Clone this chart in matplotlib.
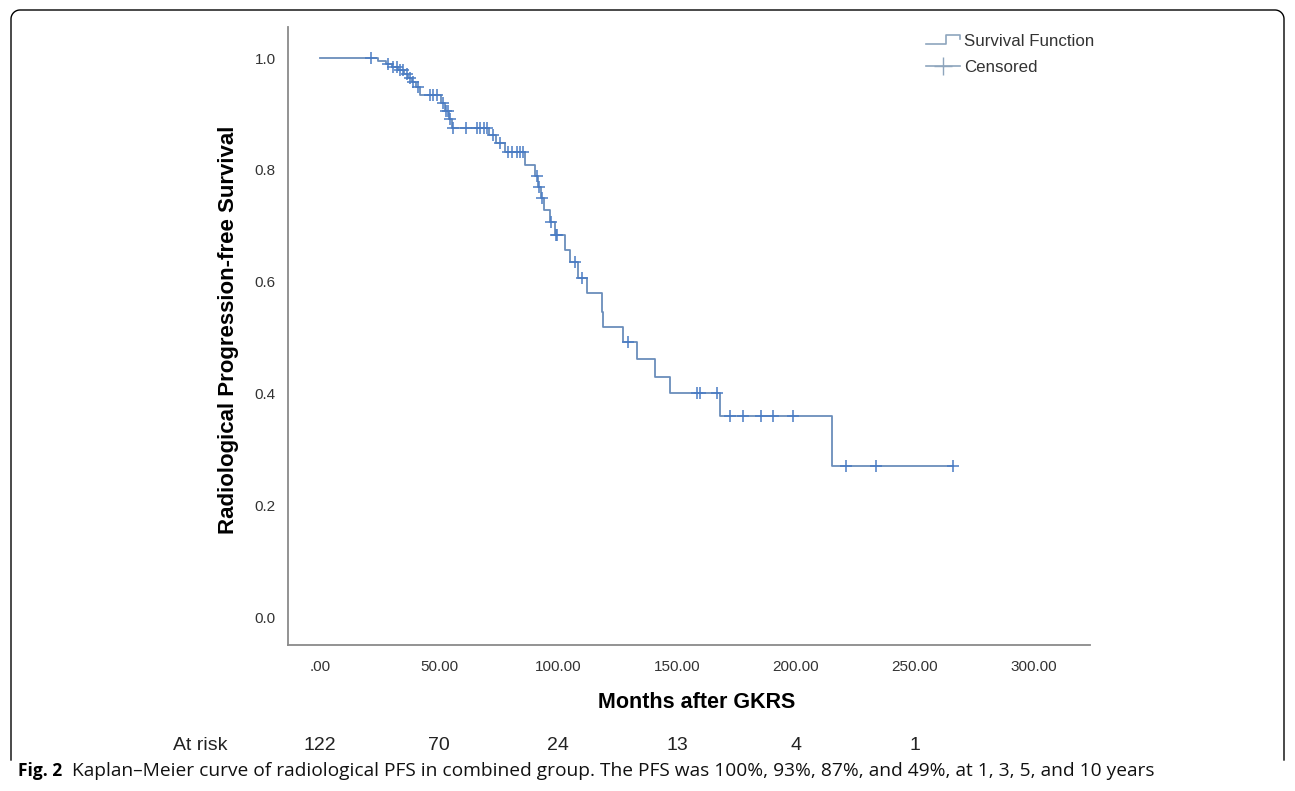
import numpy as np
import matplotlib
matplotlib.use('agg')
import matplotlib.pyplot as plt
from matplotlib.lines import Line2D
from matplotlib.legend_handler import HandlerBase
from matplotlib.transforms import blended_transform_factory

# Kaplan-Meier steps: month of each drop and survival after it
event_months = [24.4, 27.7, 30.3, 32.8, 35.3, 37.0, 38.7, 40.3, 42.0, 50.8,
                52.5, 54.2, 55.5, 71.0, 73.9, 77.7, 86.1, 90.3, 91.6, 92.9,
                94.1, 96.6, 98.7, 102.9, 105.0, 108.4, 112.2, 118.5, 118.9, 127.3,
                133.2, 140.8, 147.1, 168.1, 215.1]
event_surv = [0.995, 0.989, 0.984, 0.979, 0.971, 0.964, 0.957, 0.948, 0.934, 0.920,
              0.905, 0.891, 0.875, 0.862, 0.848, 0.832, 0.809, 0.789, 0.769, 0.750,
              0.728, 0.707, 0.683, 0.657, 0.635, 0.606, 0.580, 0.546, 0.519, 0.492,
              0.462, 0.429, 0.401, 0.360, 0.270]
censor_months = [21.4, 28.6, 30.7, 32.4, 33.6, 34.9, 36.6, 37.8, 39.1, 41.2,
                 46.2, 47.5, 49.2, 51.7, 52.9, 53.8, 54.6, 55.9, 61.3, 66.0,
                 67.2, 68.9, 70.2, 72.7, 75.6, 79.0, 80.7, 82.8, 84.0, 85.3,
                 91.2, 92.0, 93.2, 97.1, 99.2, 99.6, 107.1, 110.1, 129.4, 158.4,
                 159.7, 166.8, 172.3, 177.7, 185.3, 190.3, 198.7, 221.0, 233.6, 266.0]

xticks = [0, 50, 100, 150, 200, 250, 300]
xtick_labels = ['.00', '50.00', '100.00', '150.00', '200.00', '250.00', '300.00']
yticks = [0.0, 0.2, 0.4, 0.6, 0.8, 1.0]
risk_months = [0, 50, 100, 150, 200, 250]
at_risk = [122, 70, 24, 13, 4, 1]

LINE = '#6a8dbb'
MARK = '#4a7cc4'
LEG = '#8ea5bd'
TXT = '#333333'
CAPTION = ('Kaplan\u2013Meier curve of radiological PFS in combined group. The PFS was '
           '100%, 93%, 87%, and 49%, at 1, 3, 5, and 10 years')
ARIAL = ['Liberation Sans', 'DejaVu Sans']


class StepHandler(HandlerBase):
    def create_artists(self, legend, orig, xd, yd, width, height, fontsize, trans):
        x0, x1 = -xd, -xd + width
        xm = x0 + 0.6 * width
        ym = -yd + height / 2
        line = Line2D([x0, xm, xm, x1, x1],
                      [ym - 0.3 * height, ym - 0.3 * height, ym + 0.4 * height,
                       ym + 0.4 * height, ym + 0.05 * height],
                      color=LEG, lw=1.2, transform=trans)
        return [line]


def rounded_frame(fig, x0, x1, ytop, ybot, r=9, W=1295, H=791):
    t = np.linspace(0, np.pi / 2, 20)
    xs = [x0] + list(x0 + r - r * np.cos(t)) + list(x1 - r + r * np.sin(t)) + [x1]
    ys = [ybot] + list(ytop + r - r * np.sin(t)) + list(ytop + r - r * np.cos(t)) + [ybot]
    xs = np.array(xs) / W
    ys = 1 - np.array(ys) / H
    fig.add_artist(Line2D(xs, ys, color='black', lw=1.0, transform=fig.transFigure))


fig = plt.figure(figsize=(12.95, 7.91), dpi=100)
ax = fig.add_axes([288 / 1295, 1 - 645 / 791, 802 / 1295, 618 / 791])

times = np.concatenate([[0.0], event_months])
levels = np.concatenate([[1.0], event_surv])
end = censor_months[-1]
ax.step(np.append(times, end), np.append(levels, levels[-1]), where='post',
        color=LINE, lw=1.3)
cy = levels[np.searchsorted(times, censor_months, side='right') - 1]
ax.plot(censor_months, cy, ls='none', marker='+', color=MARK, ms=9, mew=1.1)

ax.set_xlim(-13.4, 323.5)
ax.set_ylim(-0.050, 1.0555)
ax.set_xticks(xticks)
ax.set_xticklabels(xtick_labels)
ax.set_yticks(yticks)
ax.set_yticklabels([f'{v:.1f}' for v in yticks])
ax.tick_params(length=0, labelsize=11, labelcolor=TXT)
ax.tick_params(axis='x', pad=11)
ax.tick_params(axis='y', pad=9)
for lab in ax.get_xticklabels() + ax.get_yticklabels():
    lab.set_family(ARIAL)
for side in ('top', 'right'):
    ax.spines[side].set_visible(False)
for side in ('left', 'bottom'):
    ax.spines[side].set_color('#8a8a8a')
    ax.spines[side].set_linewidth(1.3)

ax.set_xlabel('Months after GKRS', fontsize=15.5, fontweight='bold',
              family=ARIAL, color='black')
ax.xaxis.set_label_coords(0.51, -0.076)
ax.set_ylabel('Radiological Progression-free Survival', fontsize=16, fontweight='bold',
              family=ARIAL, color='black')
ax.yaxis.set_label_coords(-0.061, 0.51)

h_surv = Line2D([], [], color=LEG)
h_cens = Line2D([0], [0], color=LEG, marker='+', ms=13, mew=1.0, lw=1.2)
ax.legend([h_surv, h_cens], ['Survival Function', 'Censored'],
          handler_map={h_surv: StepHandler()}, loc='upper right',
          bbox_to_anchor=(1094 / 1295, 1 - 34 / 791), bbox_transform=fig.transFigure,
          frameon=False, handlelength=2.0, handletextpad=0.25,
          labelspacing=0.62, borderpad=0, borderaxespad=0,
          prop={'family': ARIAL, 'size': 12.2}, labelcolor=TXT)

# at-risk row under the axis
narrow = ['Liberation Sans Narrow', 'Liberation Sans', 'DejaVu Sans']
tr = blended_transform_factory(ax.transData, fig.transFigure)
ry = 1 - 745 / 791
fig.text(200 / 1295, ry, 'At risk', ha='center', va='center', fontsize=14,
         family=narrow, color='#222222')
for m, n in zip(risk_months, at_risk):
    ax.text(m, ry, str(n), transform=tr, ha='center', va='center', fontsize=14,
            family=narrow, color='#222222', clip_on=False)

# caption
cap_y = 1 - 771 / 791
fig_txt = fig.text(18 / 1295, cap_y, 'Fig. 2', ha='left', va='center', fontsize=12.5,
                   fontweight='bold', family=['Open Sans', 'DejaVu Sans'])
fig.canvas.draw()
bb = fig_txt.get_window_extent()
fig.text((bb.x1 + 10) / 1295, cap_y, CAPTION, ha='left', va='center', fontsize=13.8,
         family=['Open Sans', 'DejaVu Sans'], color='#111111')

rounded_frame(fig, 11, 1284, 10, 760)

fig.savefig('out.png', dpi=100)
